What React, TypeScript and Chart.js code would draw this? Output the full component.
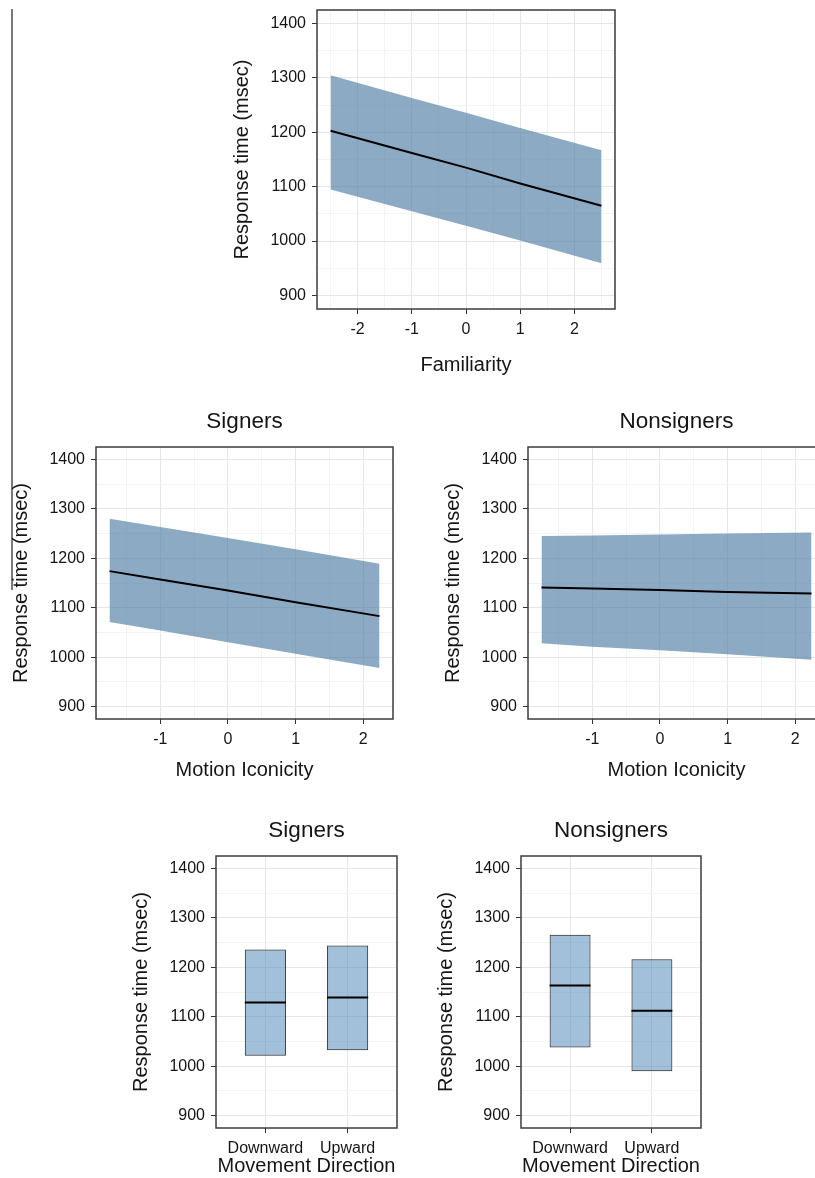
import React, { useEffect, useRef } from 'react';
import { Chart, registerables } from 'chart.js';

Chart.register(...registerables);

const FONT = '"Liberation Sans", Arial, Helvetica, sans-serif';
Chart.defaults.font.family = FONT;

// ---------- data ----------
const yMajorTicks = [900, 1000, 1100, 1200, 1300, 1400];
const yLimits = [900, 1400];
const yTitle = 'Response time (msec)';

// Familiarity panel
const famX = [-2.5, -1, 0, 1, 2.5];
const famUpper = [1305, 1263, 1236, 1208, 1167];
const famFit = [1203, 1162, 1135, 1106, 1065];
const famLower = [1095, 1055, 1028, 1001, 959];
const famTicks = [-2, -1, 0, 1, 2];

// Motion iconicity panels
const iconX = [-1.75, -1, 0, 1, 2.24];
const iconTicks = [-1, 0, 1, 2];
const signIconUpper = [1280, 1263, 1241, 1218, 1189];
const signIconFit = [1174, 1157, 1135, 1111, 1083];
const signIconLower = [1071, 1054, 1030, 1007, 978];
const nonIconUpper = [1245, 1246, 1248, 1250, 1252];
const nonIconFit = [1141, 1139, 1136, 1132, 1129];
const nonIconLower = [1028, 1021, 1014, 1006, 995];

// Movement direction panels
const directions = ['Downward', 'Upward'];
const signDirUpper = [1236, 1244];
const signDirMean = [1129, 1139];
const signDirLower = [1021, 1032];
const nonDirUpper = [1266, 1216];
const nonDirMean = [1163, 1112];
const nonDirLower = [1038, 990];

// ---------- styles ----------
const BAND_FILL = 'rgba(70,118,160,0.62)';
const BOX_FILL = 'rgba(70,130,180,0.5)';
const GRID_MAJOR = '#e6e6e6';
const GRID_MINOR = '#f3f3f3';
const FRAME = '#3c3c3c';
const TEXT = '#151515';
const Y_AXIS_W = 90;
const X_AXIS_H = 70;
const RIGHT_PAD = 10;
const TITLE_SPACE = 50;
const TOP_PAD = 10;

type Box = { l: number; t: number; r: number; b: number };

function expand(lo: number, hi: number, f: number) {
  const d = hi - lo;
  return [lo - f * d, hi + f * d];
}

function minorBreaks(majors: number[], min: number, max: number) {
  const step = majors[1] - majors[0];
  const out: number[] = [];
  for (let i = -1; i < majors.length; i++) {
    const v = i < 0 ? majors[0] - step / 2 : majors[i] + step / 2;
    if (v > min && v < max) out.push(v);
  }
  return out;
}

function gridStyle(majors: number[]) {
  return {
    color: (c: any) => (c.tick && majors.includes(c.tick.value) ? GRID_MAJOR : GRID_MINOR),
    tickColor: (c: any) => (c.tick && majors.includes(c.tick.value) ? '#333333' : 'rgba(0,0,0,0)'),
    tickLength: 5,
    lineWidth: 1,
    offset: false,
  };
}

function yScale() {
  const [min, max] = expand(yLimits[0], yLimits[1], 0.05);
  const minor = minorBreaks(yMajorTicks, min, max);
  const all = [...yMajorTicks, ...minor].sort((a, b) => a - b);
  return {
    type: 'linear',
    position: 'left',
    min,
    max,
    afterBuildTicks: (s: any) => {
      s.ticks = all.map((v) => ({ value: v }));
    },
    afterFit: (s: any) => {
      s.width = Y_AXIS_W;
      s.paddingTop = 0;
      s.paddingBottom = 0;
    },
    ticks: {
      autoSkip: false,
      padding: 6,
      color: TEXT,
      font: { family: FONT, size: 16 },
      callback: (v: number) => (yMajorTicks.includes(v) ? String(v) : ''),
    },
    grid: gridStyle(yMajorTicks),
    border: { display: false },
    title: {
      display: true,
      text: yTitle,
      color: TEXT,
      font: { family: FONT, size: 20 },
      padding: { top: 3, bottom: 0 },
    },
  };
}

function linearX(majors: number[], xs: number[], title: string, titlePad: number) {
  const [min, max] = expand(Math.min(...xs), Math.max(...xs), 0.05);
  const minor = minorBreaks(majors, min, max);
  const all = [...majors, ...minor].sort((a, b) => a - b);
  return {
    type: 'linear',
    position: 'bottom',
    min,
    max,
    offset: false,
    afterBuildTicks: (s: any) => {
      s.ticks = all.map((v) => ({ value: v }));
    },
    afterFit: (s: any) => {
      s.height = X_AXIS_H;
      s.paddingLeft = 0;
      s.paddingRight = 0;
    },
    ticks: {
      autoSkip: false,
      maxRotation: 0,
      padding: 6,
      color: TEXT,
      font: { family: FONT, size: 16 },
      callback: (v: number) => (majors.includes(v) ? String(v) : ''),
    },
    grid: gridStyle(majors),
    border: { display: false },
    title: {
      display: true,
      text: title,
      color: TEXT,
      font: { family: FONT, size: 20 },
      padding: { top: 0, bottom: titlePad },
    },
  };
}

function categoryX(cats: string[], title: string, titlePad: number) {
  const pos = cats.map((_, i) => i + 1);
  const min = 1 - 0.6;
  const max = cats.length + 0.6;
  return {
    type: 'linear',
    position: 'bottom',
    min,
    max,
    offset: false,
    afterBuildTicks: (s: any) => {
      s.ticks = pos.map((v) => ({ value: v }));
    },
    afterFit: (s: any) => {
      s.height = X_AXIS_H;
      s.paddingLeft = 0;
      s.paddingRight = 0;
    },
    ticks: {
      autoSkip: false,
      maxRotation: 0,
      padding: 6,
      color: TEXT,
      font: { family: FONT, size: 16 },
      callback: (v: number) => cats[Math.round(v) - 1] ?? '',
    },
    grid: gridStyle(pos),
    border: { display: false },
    title: {
      display: true,
      text: title,
      color: TEXT,
      font: { family: FONT, size: 20 },
      padding: { top: 0, bottom: titlePad },
    },
  };
}

const framePlugin = {
  id: 'frame',
  afterDatasetsDraw(chart: any) {
    const { ctx, chartArea: a } = chart;
    ctx.save();
    ctx.strokeStyle = FRAME;
    ctx.lineWidth = 1.5;
    ctx.strokeRect(a.left, a.top, a.right - a.left, a.bottom - a.top);
    ctx.restore();
  },
};

function commonOptions(title: string | null, scales: any) {
  return {
    responsive: false,
    animation: false,
    devicePixelRatio: 1,
    events: [],
    layout: { padding: { left: 0, right: RIGHT_PAD, top: title ? 0 : TOP_PAD, bottom: 0 } },
    plugins: {
      legend: { display: false },
      tooltip: { enabled: false },
      title: title
        ? {
            display: true,
            text: title,
            color: TEXT,
            fullSize: false,
            font: { family: FONT, size: 22.5, weight: 'normal', lineHeight: 1.2 },
            padding: { top: 11.5, bottom: 11.5 },
          }
        : { display: false },
    },
    scales,
  };
}

function ribbonConfig(
  xs: number[],
  upper: number[],
  fit: number[],
  lower: number[],
  majors: number[],
  xTitle: string,
  xTitlePad: number,
  title: string | null
) {
  return {
    type: 'line',
    data: {
      datasets: [
        {
          data: xs.map((x, i) => ({ x, y: upper[i] })),
          borderColor: 'rgba(0,0,0,0)',
          borderWidth: 0,
          pointRadius: 0,
          fill: '+1',
          backgroundColor: BAND_FILL,
          tension: 0,
          order: 2,
        },
        {
          data: xs.map((x, i) => ({ x, y: lower[i] })),
          borderColor: 'rgba(0,0,0,0)',
          borderWidth: 0,
          pointRadius: 0,
          fill: false,
          tension: 0,
          order: 3,
        },
        {
          data: xs.map((x, i) => ({ x, y: fit[i] })),
          borderColor: '#000000',
          borderWidth: 2,
          pointRadius: 0,
          fill: false,
          tension: 0,
          order: 0,
        },
      ],
    },
    options: commonOptions(title, { x: linearX(majors, xs, xTitle, xTitlePad), y: yScale() }),
    plugins: [framePlugin],
  };
}

function crossbarConfig(lower: number[], mean: number[], upper: number[], title: string) {
  const midPlugin = {
    id: 'crossbarMid',
    afterDatasetsDraw(chart: any) {
      const { ctx } = chart;
      const meta = chart.getDatasetMeta(0);
      const y = chart.scales.y;
      ctx.save();
      ctx.strokeStyle = '#000000';
      ctx.lineWidth = 2;
      meta.data.forEach((el: any, i: number) => {
        const p = y.getPixelForValue(mean[i]);
        ctx.beginPath();
        ctx.moveTo(el.x - el.width / 2, p);
        ctx.lineTo(el.x + el.width / 2, p);
        ctx.stroke();
      });
      ctx.restore();
    },
  };
  return {
    type: 'bar',
    data: {
      datasets: [
        {
          data: directions.map((_, i) => ({ x: i + 1, y: [lower[i], upper[i]] })),
          backgroundColor: BOX_FILL,
          borderColor: '#2a2a2a',
          borderWidth: 1,
          borderSkipped: false,
          barPercentage: 1,
          categoryPercentage: 0.5,
        },
      ],
    },
    options: commonOptions(title, {
      x: categoryX(directions, 'Movement Direction', 20),
      y: yScale(),
    }),
    plugins: [midPlugin, framePlugin],
  };
}

function Panel({ box, hasTitle, make }: { box: Box; hasTitle: boolean; make: () => any }) {
  const ref = useRef<HTMLCanvasElement>(null);
  const top = hasTitle ? TITLE_SPACE : TOP_PAD;
  const W = box.r - box.l + Y_AXIS_W + RIGHT_PAD;
  const H = top + (box.b - box.t) + X_AXIS_H;
  useEffect(() => {
    if (!ref.current) return;
    const chart = new Chart(ref.current, make());
    return () => chart.destroy();
  }, []);
  return (
    <canvas
      ref={ref}
      width={W}
      height={H}
      style={{ position: 'absolute', left: box.l - Y_AXIS_W, top: box.t - top, width: W, height: H }}
    />
  );
}

export default function App() {
  return (
    <div
      style={{
        position: 'fixed',
        left: 0,
        top: 0,
        width: 815,
        height: 1178,
        overflow: 'hidden',
        background: '#ffffff',
      }}
    >
      <div style={{ position: 'absolute', left: 11, top: 9, width: 2, height: 581, background: '#7a7a7a' }} />
      <Panel
        box={{ l: 317, t: 10, r: 615, b: 309 }}
        hasTitle={false}
        make={() => ribbonConfig(famX, famUpper, famFit, famLower, famTicks, 'Familiarity', 2, null)}
      />
      <Panel
        box={{ l: 96, t: 447, r: 393, b: 719 }}
        hasTitle={true}
        make={() =>
          ribbonConfig(iconX, signIconUpper, signIconFit, signIconLower, iconTicks, 'Motion Iconicity', 7, 'Signers')
        }
      />
      <Panel
        box={{ l: 528, t: 447, r: 825, b: 719 }}
        hasTitle={true}
        make={() =>
          ribbonConfig(iconX, nonIconUpper, nonIconFit, nonIconLower, iconTicks, 'Motion Iconicity', 7, 'Nonsigners')
        }
      />
      <Panel
        box={{ l: 216, t: 856, r: 397, b: 1128 }}
        hasTitle={true}
        make={() => crossbarConfig(signDirLower, signDirMean, signDirUpper, 'Signers')}
      />
      <Panel
        box={{ l: 521, t: 856, r: 701, b: 1128 }}
        hasTitle={true}
        make={() => crossbarConfig(nonDirLower, nonDirMean, nonDirUpper, 'Nonsigners')}
      />
    </div>
  );
}
